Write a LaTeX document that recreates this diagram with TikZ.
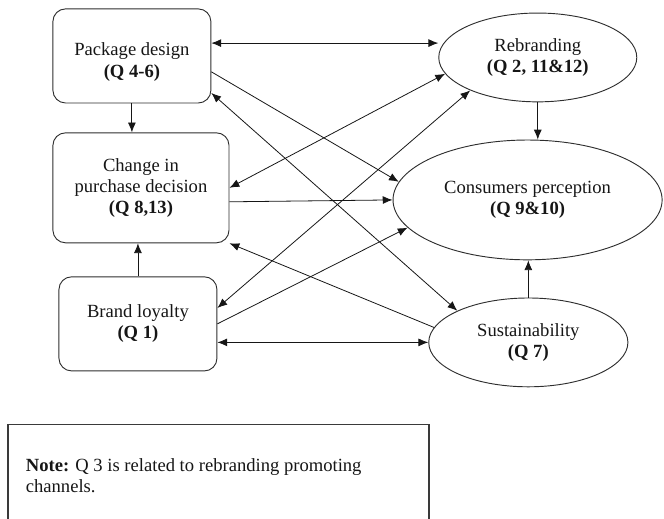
\documentclass[tikz,border=0pt]{standalone}
\usepackage{fontspec}
\setmainfont{Liberation Serif}
\usepackage{xcolor}
\definecolor{rbink}{HTML}{161616}
\definecolor{rbline}{HTML}{2E2E2E}
\definecolor{rbnote}{HTML}{3A3A3A}
\newcommand{\qtag}[1]{\textbf{(#1)}}
\usepackage{tikz}
\usetikzlibrary{shapes.geometric,arrows.meta}

\begin{document}
\begin{tikzpicture}[
    every node/.style={font=\fontsize{14pt}{16pt}\selectfont, text=rbink},
    block/.style={rectangle, draw=rbline, rounded corners=9.5pt, align=center,
                  inner sep=2pt, line width=0.7pt},
    oval/.style ={ellipse, draw=rbline, align=center, inner sep=1pt, line width=0.7pt},
    flow/.style={-{Latex[length=2.6mm, width=2.1mm]}, color=rbink, line width=0.6pt},
    flowb/.style={flow, {Latex[length=2.6mm, width=2.1mm]}-{Latex[length=2.6mm, width=2.1mm]}},
    notebox/.style={draw=rbnote, line width=1pt},
  ]

  \useasboundingbox (0,0) rectangle (17.57,-13.71);

  % left column
  \node[block, minimum width=4.18cm, minimum height=2.49cm] (PD) at (3.49,-1.48)
    {\rule{0pt}{19pt}Package design\\\qtag{Q 4-6}};
  \node[block, minimum width=4.66cm, minimum height=2.91cm] (CPD) at (3.73,-4.97)
    {Change in\\purchase decision\\\qtag{Q 8,13}};
  \node[block, minimum width=4.18cm, minimum height=2.49cm] (BL) at (3.65,-8.57)
    {Brand loyalty\\\qtag{Q 1}};

  % right column
  \node[oval, minimum width=5.24cm, minimum height=2.35cm] (RB) at (14.23,-1.52)
    {Rebranding\\\qtag{Q 2, 11\&12}};
  \node[oval, minimum width=7.12cm, minimum height=3.17cm] (CP) at (13.96,-5.29)
    {Consumers perception\\\qtag{Q 9\&10}};
  \node[oval, minimum width=5.27cm, minimum height=2.35cm] (SU) at (13.98,-9.06)
    {Sustainability\\\qtag{Q 7}};

  % straight links
  \draw[flowb] ([yshift=0.34cm]PD.east) -- ([yshift=0.34cm]PD.east -| RB.west);
  \draw[flow] (PD.south) -- (PD.south |- CPD.north);
  \draw[flow] (BL.north) -- (BL.north |- CPD.south);
  \draw[flow] (RB.south) -- (RB.south |- CP.north);
  \draw[flow] (SU.north) -- (SU.north |- CP.south);
  \draw[flowb] (BL.east |- SU.west) -- (SU.west);

  % crossing links
  \draw[flow] ([yshift=-0.42cm]PD.east) -- (CP.172);
  \draw[flowb] ([yshift=-0.98cm]PD.east) -- (SU.156);
  \draw[flowb] (CPD.east) -- (RB.190);
  \draw[flowb] ([yshift=0.42cm]BL.east) -- (RB.206);
  \draw[flow] (BL.east) -- (CP.193);
  \draw[flow] ([yshift=-0.37cm]CPD.east) -- (CP.west);
  \draw[flow] (SU.171) -- (CPD.south east);

  % note
  \draw[notebox] (0.21,-13.75) -- (0.21,-11.24) -- (11.35,-11.24) -- (11.35,-13.75);
  \node[anchor=west, align=left] (NOTE) at (0.56,-12.59)
    {\textbf{Note:} Q 3 is related to rebranding promoting\\channels.};

\end{tikzpicture}
\end{document}
